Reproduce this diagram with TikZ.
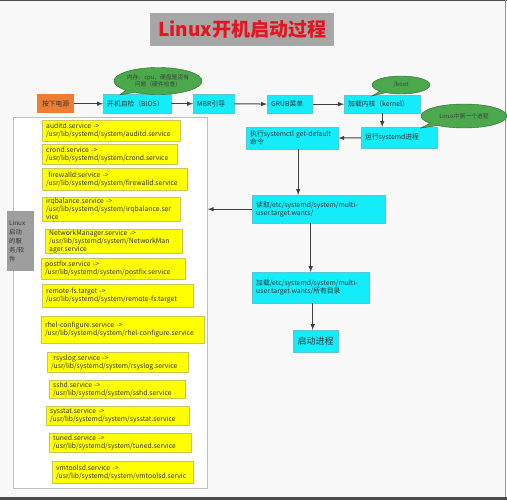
\documentclass[tikz,border=0pt]{standalone}
\usepackage{fontspec}
\setmainfont{Noto Sans CJK SC}
\usetikzlibrary{shapes, shapes.callouts, positioning}
\definecolor{bgpage}{RGB}{248,248,248}
\definecolor{boxcyan}{RGB}{20,236,250}
\definecolor{cyanline}{RGB}{90,200,210}
\definecolor{boxyellow}{RGB}{255,255,0}
\definecolor{yellowline}{RGB}{200,200,90}
\definecolor{boxorange}{RGB}{237,125,49}
\definecolor{bubblegreen}{RGB}{76,168,76}
\definecolor{bubbleline}{RGB}{45,100,45}
\definecolor{titlered}{RGB}{230,20,30}
\definecolor{arrowgray}{RGB}{64,64,64}
\tikzset{
  box/.style={anchor=north west, inner sep=0pt, align=left, text=black!80},
  sz/.style 2 args={minimum width=#1pt, minimum height=#2pt, text width=#1pt-8pt},
  cbox/.style={box, fill=boxcyan, draw=cyanline, line width=0.4pt},
  ybox/.style={box, fill=boxyellow, draw=yellowline, line width=0.4pt},
  bubble/.style={ellipse callout, fill=bubblegreen, draw=bubbleline, inner sep=0pt, align=center, text=black!75, font=\fontsize{5.8}{7}\selectfont},
  link/.style={->, draw=arrowgray, line width=1pt}
}
\begin{document}
\begin{tikzpicture}[x=1pt, y=-1pt, >=latex, font=\fontsize{6.8}{8}\selectfont]
\fill[bgpage] (0,0) rectangle (507,500);
\useasboundingbox (0,0) rectangle (507,500);
\draw[black!70, line width=1.5pt] (0,0.5) -- (507,0.5);
\draw[black!70, line width=3pt] (0,498.5) -- (507,498.5);
\draw[black!40, line width=1pt] (505.5,0) -- (505.5,497);

\node[box, fill=black!35, minimum width=184pt, minimum height=33pt, align=center, text=titlered, font=\fontsize{19}{22}\selectfont\bfseries] (title) at (150,13) {Linux开机启动过程};

\node[box, sz={37}{19}, fill=boxorange, align=center, text width=] (power) at (37,94) {按下电源};
\node[cbox, sz={68}{19}] (bios) at (103,94) {开机自检（BIOS）};
\node[cbox, sz={41}{19}] (mbr) at (193,94) {MBR引导};
\node[cbox, sz={45}{18}] (grub) at (267,95) {GRUB菜单};
\node[cbox, sz={76}{18}] (kernel) at (344,95) {加载内核（kernel）};
\node[cbox, sz={76}{21}] (systemd) at (361,127) {运行systemd进程};
\node[cbox, sz={92}{22}] (getdef) at (246,127) {执行systemctl get-default\\命令};
\node[cbox, sz={133}{28}] (readdir) at (252,195) {读取/etc/systemd/system/multi-\\user.target.wants/};
\node[cbox, sz={117}{31}] (loaddir) at (252,272) {加载/etc/systemd/system/multi-\\user.target.wants/所有目录};
\node[cbox, sz={45}{22}, align=center, font=\fontsize{9}{11}\selectfont] (start) at (293,330) {启动进程};

\node[bubble, minimum width=83pt, minimum height=27pt, callout absolute pointer={(120,95)}] (hwcheck) at (158,81) {内存，cpu，硬盘是否有\\问题（硬件检查）};
\node[bubble, minimum width=58pt, minimum height=18pt, callout absolute pointer={(372,96)}] (boot) at (401,85) {/boot};
\node[bubble, minimum width=86pt, minimum height=24pt, callout absolute pointer={(421,128)}] (first) at (464,116) {Linux中第一个进程};

\node[box, fill=white, draw=black!25, line width=0.8pt, minimum width=194pt, minimum height=371pt] (services) at (13,117) {};
\node[box, fill=black!38, minimum width=27pt, minimum height=60pt, text width=23pt, font=\fontsize{6.3}{9}\selectfont] (label) at (7,211) {Linux\\启动\\的服\\务/软\\件};

\node[ybox, sz={138}{21}] (auditd) at (42,120) {auditd.service ->\\/usr/lib/systemd/system/auditd.service};
\node[ybox, sz={135}{20}] (crond) at (42,144) {crond.service ->\\/usr/lib/systemd/system/crond.service};
\node[ybox, sz={145}{22}] (firewalld) at (42,168) {\ firewalld.service ->\\/usr/lib/systemd/system/firewalld.service};
\node[ybox, sz={138}{24}] (irq) at (42,197) {irqbalance.service ->\\/usr/lib/systemd/system/irqbalance.ser\\vice};
\node[ybox, sz={137}{24}] (netman) at (45,229) {NetworkManager.service ->\\/usr/lib/systemd/system/NetworkMan\\ager.service};
\node[ybox, sz={144}{21}] (postfix) at (41,258) {postfix.service ->\\/usr/lib/systemd/system/postfix.service};
\node[ybox, sz={151}{23}] (remotefs) at (42,284) {remote-fs.target ->\\/usr/lib/systemd/system/remote-fs.target};
\node[ybox, sz={163}{27}] (rhel) at (41,316) {rhel-configure.service ->\\/usr/lib/systemd/system/rhel-configure.service};
\node[ybox, sz={141}{20}] (rsyslog) at (47,352) {\ rsyslog.service ->\\/usr/lib/systemd/system/rsyslog.service};
\node[ybox, sz={136}{18}] (sshd) at (49,380) {sshd.service ->\\/usr/lib/systemd/system/sshd.service};
\node[ybox, sz={143}{19}] (sysstat) at (46,406) {sysstat.service ->\\/usr/lib/systemd/system/sysstat.service};
\node[ybox, sz={142}{19}] (tuned) at (49,433) {tuned.service ->\\/usr/lib/systemd/system/tuned.service};
\node[ybox, sz={141}{22}] (vmtools) at (52,461) {vmtoolsd.service ->\\/usr/lib/systemd/system/vmtoolsd.servic};

\draw[link] (power) -- (bios);
\draw[link] (bios) -- (mbr);
\draw[link] (mbr) -- (grub);
\draw[link] ([xshift=1pt]grub.east) -- (kernel);
\draw[link] (kernel) -- (kernel |- systemd.north);
\draw[link] (systemd) -- (getdef);
\draw[link] ([xshift=6pt]getdef.south) -- ([xshift=6pt]getdef.south |- readdir.north);
\draw[link] (readdir) -- (services.east |- readdir.west);
\draw[link] (loaddir.north |- readdir.south) -- (loaddir.north);
\draw[link] ([xshift=-3pt]start.north |- loaddir.south) -- ([xshift=-3pt]start.north);
\end{tikzpicture}
\end{document}
